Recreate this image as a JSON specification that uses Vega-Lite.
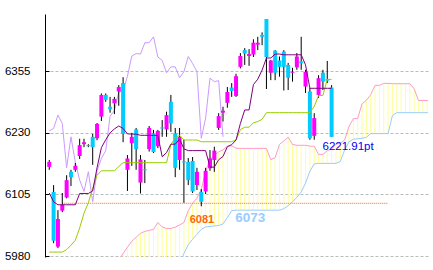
{
  "$schema": "https://vega.github.io/schema/vega-lite/v6.json",
  "width": 383,
  "height": 243,
  "autosize": {"type": "none"},
  "padding": {"left": 45, "top": 14, "right": 5, "bottom": 13},
  "background": "white",
  "config": {
    "view": {"stroke": null},
    "axisY": {
      "domainColor": "black", "domainWidth": 1,
      "tickColor": "black", "tickSize": -4, "tickWidth": 1,
      "gridColor": "#BBBBBB", "gridDash": [3, 2], "gridWidth": 1,
      "labelFont": "Liberation Sans", "labelFontSize": 11.5, "labelColor": "black", "labelPadding": 19
    }
  },
  "datasets": {
    "candles": [
      {"i":0,"o":6161,"h":6175,"l":6155,"c":6171},
      {"i":1,"o":6110,"h":6124,"l":6006,"c":6011},
      {"i":2,"o":5999,"h":6073,"l":5996,"c":6055},
      {"i":3,"o":6072,"h":6108,"l":6069,"c":6084},
      {"i":4,"o":6099,"h":6144,"l":6097,"c":6134},
      {"i":5,"o":6151,"h":6155,"l":6122,"c":6140},
      {"i":6,"o":6155,"h":6169,"l":6151,"c":6163},
      {"i":7,"o":6183,"h":6218,"l":6177,"c":6205},
      {"i":8,"o":6207,"h":6218,"l":6201,"c":6211},
      {"i":9,"o":6205,"h":6207,"l":6201,"c":6203},
      {"i":10,"o":6222,"h":6228,"l":6165,"c":6201},
      {"i":11,"o":6219,"h":6250,"l":6215,"c":6248},
      {"i":12,"o":6263,"h":6310,"l":6254,"c":6307},
      {"i":13,"o":6307,"h":6310,"l":6293,"c":6297},
      {"i":14,"o":6283,"h":6303,"l":6271,"c":6278},
      {"i":15,"o":6290,"h":6303,"l":6268,"c":6299},
      {"i":16,"o":6314,"h":6327,"l":6285,"c":6323},
      {"i":17,"o":6331,"h":6343,"l":6211,"c":6228},
      {"i":18,"o":6155,"h":6185,"l":6112,"c":6178},
      {"i":19,"o":6209,"h":6230,"l":6163,"c":6222},
      {"i":20,"o":6237,"h":6240,"l":6155,"c":6197},
      {"i":21,"o":6129,"h":6185,"l":6107,"c":6176},
      {"i":22,"o":6156,"h":6175,"l":6128,"c":6154},
      {"i":23,"o":6197,"h":6244,"l":6192,"c":6240},
      {"i":24,"o":6229,"h":6236,"l":6189,"c":6191},
      {"i":25,"o":6203,"h":6236,"l":6199,"c":6234},
      {"i":26,"o":6241,"h":6256,"l":6222,"c":6239},
      {"i":27,"o":6237,"h":6273,"l":6222,"c":6266},
      {"i":28,"o":6293,"h":6307,"l":6232,"c":6249},
      {"i":29,"o":6229,"h":6240,"l":6140,"c":6159},
      {"i":30,"o":6175,"h":6240,"l":6155,"c":6222},
      {"i":31,"o":6172,"h":6216,"l":6088,"c":6170},
      {"i":32,"o":6171,"h":6179,"l":6124,"c":6134},
      {"i":33,"o":6173,"h":6181,"l":6108,"c":6111},
      {"i":34,"o":6124,"h":6159,"l":6114,"c":6151},
      {"i":35,"o":6110,"h":6116,"l":6081,"c":6090},
      {"i":36,"o":6111,"h":6159,"l":6106,"c":6153},
      {"i":37,"o":6158,"h":6195,"l":6153,"c":6178},
      {"i":38,"o":6175,"h":6202,"l":6151,"c":6194},
      {"i":39,"o":6240,"h":6270,"l":6236,"c":6264},
      {"i":40,"o":6271,"h":6283,"l":6253,"c":6275},
      {"i":41,"o":6291,"h":6323,"l":6281,"c":6313},
      {"i":42,"o":6322,"h":6331,"l":6303,"c":6315},
      {"i":43,"o":6305,"h":6350,"l":6303,"c":6345},
      {"i":44,"o":6364,"h":6392,"l":6361,"c":6386},
      {"i":45,"o":6398,"h":6402,"l":6368,"c":6391},
      {"i":46,"o":6386,"h":6400,"l":6366,"c":6390},
      {"i":47,"o":6389,"h":6420,"l":6384,"c":6413},
      {"i":48,"o":6409,"h":6425,"l":6398,"c":6413},
      {"i":49,"o":6429,"h":6434,"l":6408,"c":6425},
      {"i":50,"o":6461,"h":6461,"l":6319,"c":6384},
      {"i":51,"o":6352,"h":6378,"l":6337,"c":6377},
      {"i":52,"o":6397,"h":6398,"l":6337,"c":6352},
      {"i":53,"o":6377,"h":6385,"l":6344,"c":6364},
      {"i":54,"o":6395,"h":6398,"l":6316,"c":6364},
      {"i":55,"o":6368,"h":6372,"l":6317,"c":6342},
      {"i":56,"o":6352,"h":6362,"l":6334,"c":6354},
      {"i":57,"o":6363,"h":6392,"l":6358,"c":6385},
      {"i":58,"o":6375,"h":6425,"l":6358,"c":6371},
      {"i":59,"o":6324,"h":6358,"l":6311,"c":6354},
      {"i":60,"o":6314,"h":6321,"l":6216,"c":6219},
      {"i":61,"o":6224,"h":6270,"l":6216,"c":6260},
      {"i":62,"o":6307,"h":6347,"l":6301,"c":6341},
      {"i":63,"o":6352,"h":6358,"l":6317,"c":6334},
      {"i":64,"o":6339,"h":6376,"l":6331,"c":6336},
      {"i":65,"o":6322,"h":6327,"l":6221.91,"c":6221.91}
    ],
    "ichi": [
      {"j":0,"T":6108,"K":5988,"C":6234,"A":null,"B":null},
      {"j":1,"T":6090,"K":5988,"C":6239,"A":null,"B":null},
      {"j":2,"T":6084,"K":5988,"C":6266,"A":null,"B":null},
      {"j":3,"T":6084,"K":5988,"C":6249,"A":null,"B":null},
      {"j":4,"T":6084,"K":5993,"C":6159,"A":null,"B":null},
      {"j":5,"T":6084,"K":6002,"C":6222,"A":null,"B":null},
      {"j":6,"T":6084,"K":6012,"C":6170,"A":null,"B":null},
      {"j":7,"T":6107,"K":6037,"C":6134,"A":null,"B":null},
      {"j":8,"T":6107,"K":6067,"C":6111,"A":null,"B":null},
      {"j":9,"T":6107,"K":6088,"C":6151,"A":null,"B":null},
      {"j":10,"T":6112,"K":6118,"C":6090,"A":null,"B":null},
      {"j":11,"T":6159,"K":6144,"C":6153,"A":null,"B":null},
      {"j":12,"T":6200,"K":6153,"C":6178,"A":null,"B":null},
      {"j":13,"T":6216,"K":6153,"C":6194,"A":null,"B":null},
      {"j":14,"T":6230,"K":6153,"C":6264,"A":null,"B":null},
      {"j":15,"T":6238,"K":6153,"C":6275,"A":null,"B":null},
      {"j":16,"T":6244,"K":6161.5,"C":6313,"A":5972,"B":5950},
      {"j":17,"T":6239,"K":6169.5,"C":6315,"A":5985,"B":5950},
      {"j":18,"T":6228,"K":6169.5,"C":6345,"A":5998,"B":5950},
      {"j":19,"T":6227.5,"K":6169.5,"C":6386,"A":6010,"B":5950},
      {"j":20,"T":6227.5,"K":6169.5,"C":6391,"A":6018,"B":5950},
      {"j":21,"T":6225,"K":6169.5,"C":6390,"A":6026,"B":5950},
      {"j":22,"T":6225,"K":6169.5,"C":6413,"A":6030,"B":5950},
      {"j":23,"T":6225,"K":6169.5,"C":6413,"A":6032,"B":5950},
      {"j":24,"T":6225,"K":6169.5,"C":6425,"A":6034,"B":5950},
      {"j":25,"T":6225,"K":6169.5,"C":6384,"A":6048,"B":5950},
      {"j":26,"T":6181.5,"K":6169.5,"C":6377,"A":6039,"B":5950},
      {"j":27,"T":6190,"K":6169.5,"C":6352,"A":6036,"B":5950},
      {"j":28,"T":6207,"K":6206,"C":6364,"A":6036,"B":5950},
      {"j":29,"T":6207,"K":6220,"C":6364,"A":6038.5,"B":5950},
      {"j":30,"T":6217.5,"K":6225,"C":6342,"A":6043,"B":5965},
      {"j":31,"T":6197.5,"K":6215.5,"C":6354,"A":6048,"B":5985},
      {"j":32,"T":6194,"K":6215.5,"C":6385,"A":6072,"B":6003},
      {"j":33,"T":6194,"K":6215.5,"C":6371,"A":6087,"B":6014},
      {"j":34,"T":6194,"K":6215.5,"C":6354,"A":6097.5,"B":6024},
      {"j":35,"T":6194,"K":6212,"C":6219,"A":6115,"B":6034},
      {"j":36,"T":6194,"K":6212,"C":6260,"A":6151.5,"B":6039},
      {"j":37,"T":6160.5,"K":6212,"C":6341,"A":6176.5,"B":6040},
      {"j":38,"T":6160.5,"K":6212,"C":6334,"A":6184.5,"B":6041},
      {"j":39,"T":6175.5,"K":6212,"C":6336,"A":6191.5,"B":6042},
      {"j":40,"T":6182,"K":6212,"C":6221.91,"A":6195.5,"B":6045},
      {"j":41,"T":6202,"K":6212,"C":null,"A":6202.8,"B":6058},
      {"j":42,"T":6206,"K":6212,"C":null,"A":6204,"B":6072},
      {"j":43,"T":6215.5,"K":6215.5,"C":null,"A":6198.8,"B":6073},
      {"j":44,"T":6249,"K":6236.5,"C":null,"A":6198.5,"B":6073},
      {"j":45,"T":6276.5,"K":6241.5,"C":null,"A":6198.5,"B":6073},
      {"j":46,"T":6276.5,"K":6241.5,"C":null,"A":6198.5,"B":6073},
      {"j":47,"T":6328,"K":6250.5,"C":null,"A":6198.5,"B":6073},
      {"j":48,"T":6339,"K":6253,"C":null,"A":6198.5,"B":6073},
      {"j":49,"T":6357.5,"K":6257.5,"C":null,"A":6198.5,"B":6073},
      {"j":50,"T":6382,"K":6271,"C":null,"A":6198.5,"B":6073},
      {"j":51,"T":6382,"K":6271,"C":null,"A":6175.5,"B":6073},
      {"j":52,"T":6390,"K":6271,"C":null,"A":6179.8,"B":6073},
      {"j":53,"T":6390,"K":6271,"C":null,"A":6206.5,"B":6073},
      {"j":54,"T":6388.5,"K":6271,"C":null,"A":6213.5,"B":6076},
      {"j":55,"T":6388.5,"K":6271,"C":null,"A":6221.3,"B":6082},
      {"j":56,"T":6388.5,"K":6271,"C":null,"A":6206.5,"B":6090},
      {"j":57,"T":6388.5,"K":6271,"C":null,"A":6204.8,"B":6099},
      {"j":58,"T":6388.5,"K":6271,"C":null,"A":6204.8,"B":6110},
      {"j":59,"T":6368,"K":6271,"C":null,"A":6204.8,"B":6128},
      {"j":60,"T":6320.5,"K":6271,"C":null,"A":6203,"B":6152},
      {"j":61,"T":6320.5,"K":6283.5,"C":null,"A":6203,"B":6167},
      {"j":62,"T":6320.5,"K":6306,"C":null,"A":6186.3,"B":6168},
      {"j":63,"T":6320.5,"K":6306,"C":null,"A":6186.3,"B":6168},
      {"j":64,"T":6320.5,"K":6338.5,"C":null,"A":6193.8,"B":6168},
      {"j":65,"T":6320.5,"K":6338.5,"C":null,"A":6197,"B":6168},
      {"j":66,"T":null,"K":null,"C":null,"A":6207,"B":6168},
      {"j":67,"T":null,"K":null,"C":null,"A":6209,"B":6172},
      {"j":68,"T":null,"K":null,"C":null,"A":6215.5,"B":6195},
      {"j":69,"T":null,"K":null,"C":null,"A":6242.8,"B":6212},
      {"j":70,"T":null,"K":null,"C":null,"A":6259,"B":6217},
      {"j":71,"T":null,"K":null,"C":null,"A":6259,"B":6218},
      {"j":72,"T":null,"K":null,"C":null,"A":6289,"B":6219},
      {"j":73,"T":null,"K":null,"C":null,"A":6296,"B":6221},
      {"j":74,"T":null,"K":null,"C":null,"A":6307.5,"B":6228.5},
      {"j":75,"T":null,"K":null,"C":null,"A":6326.5,"B":6228.5},
      {"j":76,"T":null,"K":null,"C":null,"A":6326.5,"B":6228.5},
      {"j":77,"T":null,"K":null,"C":null,"A":6330.5,"B":6228.5},
      {"j":78,"T":null,"K":null,"C":null,"A":6330.5,"B":6228.5},
      {"j":79,"T":null,"K":null,"C":null,"A":6329.8,"B":6265},
      {"j":80,"T":null,"K":null,"C":null,"A":6329.8,"B":6271},
      {"j":81,"T":null,"K":null,"C":null,"A":6329.8,"B":6271},
      {"j":82,"T":null,"K":null,"C":null,"A":6329.8,"B":6271},
      {"j":83,"T":null,"K":null,"C":null,"A":6329.8,"B":6271},
      {"j":84,"T":null,"K":null,"C":null,"A":6319.5,"B":6271},
      {"j":85,"T":null,"K":null,"C":null,"A":6295.8,"B":6271},
      {"j":86,"T":null,"K":null,"C":null,"A":6295.8,"B":6271},
      {"j":87,"T":null,"K":null,"C":null,"A":6295.8,"B":6271},
      {"j":88,"T":null,"K":null,"C":null,"A":6295.8,"B":6271},
      {"j":89,"T":null,"K":null,"C":null,"A":6295.8,"B":6271},
      {"j":90,"T":null,"K":null,"C":null,"A":6295.8,"B":6271}
    ],
    "level": [{"x1": 3, "x2": 78, "p": 6087}],
    "labels": [
      {"k": "low", "x": 35.15, "p": 6053, "t": "6081"},
      {"k": "spanb", "x": 46.25, "p": 6058, "t": "6073"},
      {"k": "last", "x": 68.8, "p": 6201.3, "t": "6221.91pt"}
    ]
  },
  "layer": [
    {
      "data": {"name": "ichi"},
      "transform": [{"filter": "datum.A != null && datum.B != null"}],
      "mark": {"type": "rule", "color": "#FFFF99", "strokeWidth": 1, "clip": true},
      "encoding": {
        "x": {"field": "j", "type": "quantitative", "scale": {"domain": [0.17, 86.04], "nice": false, "zero": false}, "axis": null},
        "y": {"field": "A", "type": "quantitative", "scale": {"domain": [5978, 6471.3], "nice": false, "zero": false},
              "axis": {"values": [5980, 6105, 6230, 6355], "title": null, "grid": true, "format": "d"}},
        "y2": {"field": "B"}
      }
    },
    {
      "data": {"name": "ichi"},
      "transform": [{"filter": "datum.A != null"}],
      "mark": {"type": "line", "color": "#FF99CC", "strokeWidth": 1, "clip": true},
      "encoding": {
        "x": {"field": "j", "type": "quantitative", "scale": {"domain": [0.17, 86.04], "nice": false, "zero": false}, "axis": null},
        "y": {"field": "A", "type": "quantitative", "scale": {"domain": [5978, 6471.3], "nice": false, "zero": false},
              "axis": {"values": [5980, 6105, 6230, 6355], "title": null, "grid": true, "format": "d"}}
      }
    },
    {
      "data": {"name": "ichi"},
      "transform": [{"filter": "datum.B != null"}],
      "mark": {"type": "line", "color": "#99CCFF", "strokeWidth": 1, "clip": true},
      "encoding": {
        "x": {"field": "j", "type": "quantitative", "scale": {"domain": [0.17, 86.04], "nice": false, "zero": false}, "axis": null},
        "y": {"field": "B", "type": "quantitative", "scale": {"domain": [5978, 6471.3], "nice": false, "zero": false},
              "axis": {"values": [5980, 6105, 6230, 6355], "title": null, "grid": true, "format": "d"}}
      }
    },
    {
      "data": {"name": "level"},
      "mark": {"type": "rule", "color": "#FF6600", "strokeWidth": 1, "strokeDash": [1, 1], "clip": true},
      "encoding": {
        "x": {"field": "x1", "type": "quantitative", "scale": {"domain": [0.17, 86.04], "nice": false, "zero": false}, "axis": null},
        "x2": {"field": "x2"},
        "y": {"field": "p", "type": "quantitative", "scale": {"domain": [5978, 6471.3], "nice": false, "zero": false},
              "axis": {"values": [5980, 6105, 6230, 6355], "title": null, "grid": true, "format": "d"}}
      }
    },
    {
      "data": {"name": "ichi"},
      "transform": [{"filter": "datum.C != null"}],
      "mark": {"type": "line", "color": "#CC99FF", "strokeWidth": 1, "clip": true},
      "encoding": {
        "x": {"field": "j", "type": "quantitative", "scale": {"domain": [0.17, 86.04], "nice": false, "zero": false}, "axis": null},
        "y": {"field": "C", "type": "quantitative", "scale": {"domain": [5978, 6471.3], "nice": false, "zero": false},
              "axis": {"values": [5980, 6105, 6230, 6355], "title": null, "grid": true, "format": "d"}}
      }
    },
    {
      "data": {"name": "candles"},
      "mark": {"type": "rule", "color": "black", "strokeWidth": 1, "clip": true},
      "encoding": {
        "x": {"field": "i", "type": "quantitative", "scale": {"domain": [0.17, 86.04], "nice": false, "zero": false}, "axis": null},
        "y": {"field": "l", "type": "quantitative", "scale": {"domain": [5978, 6471.3], "nice": false, "zero": false},
              "axis": {"values": [5980, 6105, 6230, 6355], "title": null, "grid": true, "format": "d"}},
        "y2": {"field": "h"}
      }
    },
    {
      "data": {"name": "candles"},
      "mark": {"type": "bar", "size": 4, "clip": true},
      "encoding": {
        "x": {"field": "i", "type": "quantitative", "scale": {"domain": [0.17, 86.04], "nice": false, "zero": false}, "axis": null},
        "y": {"field": "o", "type": "quantitative", "scale": {"domain": [5978, 6471.3], "nice": false, "zero": false},
              "axis": {"values": [5980, 6105, 6230, 6355], "title": null, "grid": true, "format": "d"}},
        "y2": {"field": "c"},
        "color": {"condition": {"test": "datum.c >= datum.o", "value": "#FF00FF"}, "value": "#00CCFF"}
      }
    },
    {
      "data": {"name": "ichi"},
      "transform": [{"filter": "datum.K != null"}],
      "mark": {"type": "line", "color": "#99CC00", "strokeWidth": 1, "clip": true},
      "encoding": {
        "x": {"field": "j", "type": "quantitative", "scale": {"domain": [0.17, 86.04], "nice": false, "zero": false}, "axis": null},
        "y": {"field": "K", "type": "quantitative", "scale": {"domain": [5978, 6471.3], "nice": false, "zero": false},
              "axis": {"values": [5980, 6105, 6230, 6355], "title": null, "grid": true, "format": "d"}}
      }
    },
    {
      "data": {"name": "ichi"},
      "transform": [{"filter": "datum.T != null"}],
      "mark": {"type": "line", "color": "#800080", "strokeWidth": 1, "clip": true},
      "encoding": {
        "x": {"field": "j", "type": "quantitative", "scale": {"domain": [0.17, 86.04], "nice": false, "zero": false}, "axis": null},
        "y": {"field": "T", "type": "quantitative", "scale": {"domain": [5978, 6471.3], "nice": false, "zero": false},
              "axis": {"values": [5980, 6105, 6230, 6355], "title": null, "grid": true, "format": "d"}}
      }
    },
    {
      "data": {"name": "labels"},
      "transform": [{"filter": "datum.k == 'low'"}],
      "mark": {"type": "text", "font": "Liberation Sans", "fontWeight": "bold", "fontSize": 11, "color": "#FF6600", "align": "center", "baseline": "middle"},
      "encoding": {
        "x": {"field": "x", "type": "quantitative", "scale": {"domain": [0.17, 86.04], "nice": false, "zero": false}, "axis": null},
        "y": {"field": "p", "type": "quantitative", "scale": {"domain": [5978, 6471.3], "nice": false, "zero": false},
              "axis": {"values": [5980, 6105, 6230, 6355], "title": null, "grid": true, "format": "d"}},
        "text": {"field": "t"}
      }
    },
    {
      "data": {"name": "labels"},
      "transform": [{"filter": "datum.k == 'spanb'"}],
      "mark": {"type": "text", "font": "Liberation Sans", "fontWeight": "bold", "fontSize": 13.5, "color": "#99CCFF", "align": "center", "baseline": "middle"},
      "encoding": {
        "x": {"field": "x", "type": "quantitative", "scale": {"domain": [0.17, 86.04], "nice": false, "zero": false}, "axis": null},
        "y": {"field": "p", "type": "quantitative", "scale": {"domain": [5978, 6471.3], "nice": false, "zero": false},
              "axis": {"values": [5980, 6105, 6230, 6355], "title": null, "grid": true, "format": "d"}},
        "text": {"field": "t"}
      }
    },
    {
      "data": {"name": "labels"},
      "transform": [{"filter": "datum.k == 'last'"}],
      "mark": {"type": "text", "font": "Liberation Sans", "fontSize": 11.5, "color": "#0000EE", "align": "center", "baseline": "middle"},
      "encoding": {
        "x": {"field": "x", "type": "quantitative", "scale": {"domain": [0.17, 86.04], "nice": false, "zero": false}, "axis": null},
        "y": {"field": "p", "type": "quantitative", "scale": {"domain": [5978, 6471.3], "nice": false, "zero": false},
              "axis": {"values": [5980, 6105, 6230, 6355], "title": null, "grid": true, "format": "d"}},
        "text": {"field": "t"}
      }
    }
  ]
}
